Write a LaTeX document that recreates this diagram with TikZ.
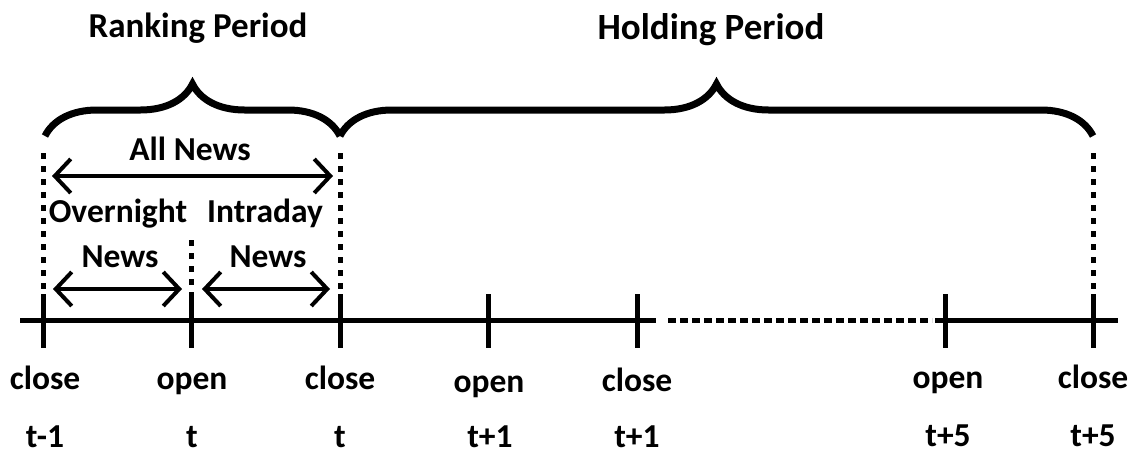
\documentclass[tikz,border=0pt]{standalone}
\usepackage{fontspec}
\setmainfont{Carlito}
\usetikzlibrary{arrows.meta,decorations.pathreplacing}
\begin{document}
\begin{tikzpicture}[x=1pt,y=-1pt,
  lbl/.style={font=\bfseries\fontsize{33.5}{36}\selectfont, inner sep=0pt, anchor=base},
  ttl/.style={font=\bfseries\fontsize{36}{40}\selectfont, inner sep=0pt, anchor=base},
  axis/.style={line width=5pt},
  tickmark/.style={line width=5pt},
  axisdots/.style={line width=5pt, dash pattern=on 8pt off 4pt},
  guide/.style={line width=5pt, dash pattern=on 6pt off 7pt},
  dbl/.style={line width=4pt, {Straight Barb[length=16pt,width=34pt]}-{Straight Barb[length=16pt,width=34pt]}},
  brc/.style={line width=7pt, decorate, decoration={brace, amplitude=52pt}}]
\useasboundingbox (0,0) rectangle (1131,455);

% axis
\coordinate (L) at (20,320);
\coordinate (D1) at (656,320);
\coordinate (D2) at (668,320);
\coordinate (D3) at (932,320);
\coordinate (D4) at (935,320);
\coordinate (R) at (1118,320);
\draw[axis] (L) -- (D1);
\draw[axisdots] (D2) -- (D3);
\draw[axis] (D4) -- (R);

% ticks
\foreach \n/\x in {0/43,1/191,2/340,3/488,4/637,5/945,6/1093}{
  \coordinate (T\n) at (\x,320);
  \coordinate (TT\n) at (\x,294);
  \coordinate (TB\n) at (\x,348);
  \draw[tickmark] (TT\n) -- (TB\n);
}

% dotted guides
\coordinate (G0) at (43,153);
\coordinate (G1) at (191,240);
\coordinate (G2) at (340,153);
\coordinate (G6) at (1093,153);
\draw[guide] (G0) -- (T0);
\draw[guide] (G1) -- (T1);
\draw[guide] (G2) -- (T2);
\draw[guide] (G6) -- (T6);

% braces
\coordinate (B0) at (45,136);
\coordinate (B1) at (340,136);
\coordinate (B2) at (1093,136);
\draw[brc] (B0) -- (B1);
\draw[brc] (B1) -- (B2);

% titles
\node[ttl, font=\bfseries\fontsize{35}{38}\selectfont] (rank) at (198,37) {Ranking Period};
\node[ttl, font=\bfseries\fontsize{37}{40}\selectfont] (hold) at (711,39) {Holding Period};

% arrows
\coordinate (A0) at (52,176);
\coordinate (A1) at (333,176);
\draw[dbl] (A0) -- (A1);
\node[lbl] (all) at (190,160) {All News};

\coordinate (O0) at (53,289);
\coordinate (O1) at (182,289);
\coordinate (I0) at (202,289);
\coordinate (I1) at (330,289);
\draw[dbl] (O0) -- (O1);
\draw[dbl] (I0) -- (I1);
\node[lbl] (over) at (118,222) {Overnight};
\node[lbl] (intra) at (265,222) {Intraday};
\node[lbl] (news1) at (120,267) {News};
\node[lbl] (news2) at (268,267) {News};

% bottom labels
\node[lbl] (c0) at (45,389) {close};
\node[lbl] (o1) at (192,389) {open};
\node[lbl] (c2) at (340,389) {close};
\node[lbl] (o3) at (489,392) {open};
\node[lbl] (c4) at (637,391) {close};
\node[lbl] (o5) at (948,388) {open};
\node[lbl] (c6) at (1093,388) {close};
\node[lbl] (t0) at (45,447) {t-1};
\node[lbl] (t1) at (192,447) {t};
\node[lbl] (t2) at (340,447) {t};
\node[lbl] (t3) at (490,447) {t+1};
\node[lbl] (t4) at (637,447) {t+1};
\node[lbl] (t5) at (948,446) {t+5};
\node[lbl] (t6) at (1093,446) {t+5};
\end{tikzpicture}
\end{document}
